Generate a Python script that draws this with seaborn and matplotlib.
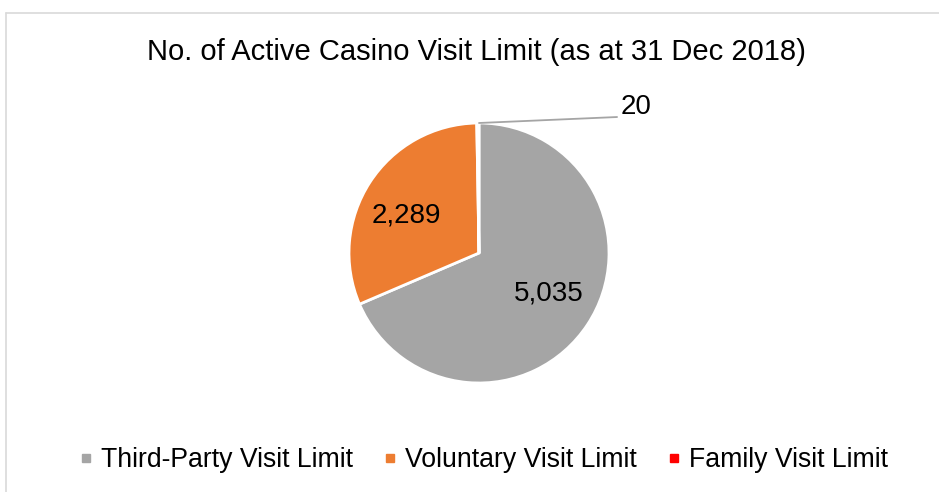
import matplotlib.pyplot as plt
import matplotlib.lines as mlines
import seaborn as sns

sns.set_theme(style="white")
plt.rcParams["font.family"] = ["Liberation Sans", "DejaVu Sans"]
plt.rcParams["text.color"] = "black"

# Data
categories = ["Third-Party Visit Limit", "Voluntary Visit Limit", "Family Visit Limit"]
counts = [5035, 2289, 20]
colors = ["#A5A5A5", "#ED7D31", "#FF0000"]
title = "No. of Active Casino Visit Limit (as at 31 Dec 2018)"

W, H = 939, 492
fig = plt.figure(figsize=(W / 100, H / 100), dpi=100)

# light border (chart area is cropped on right/bottom)
fig.add_artist(mlines.Line2D([6 / W, 1], [1 - 13 / H, 1 - 13 / H], color="#D9D9D9", lw=1.2))
fig.add_artist(mlines.Line2D([6 / W, 6 / W], [0, 1 - 13 / H], color="#D9D9D9", lw=1.2))

cx, cy, r = 479, 253, 130
ax = fig.add_axes([(cx - r) / W, (H - cy - r) / H, 2 * r / W, 2 * r / H])
ax.pie(
    counts,
    colors=colors,
    startangle=90,
    counterclock=False,
    radius=1,
    wedgeprops={"edgecolor": "white", "linewidth": 2},
)
ax.set_xlim(-1, 1)
ax.set_ylim(-1, 1)
ax.set_aspect("equal")

# data labels
ax.text(0.538, -0.308, f"{counts[0]:,}", fontsize=20, ha="center", va="center")
ax.text(-0.562, 0.292, f"{counts[1]:,}", fontsize=20, ha="center", va="center")
ax.plot([0.0, 1.062], [1.0, 1.046], color="#A5A5A5", lw=1.3, clip_on=False)
ax.text(1.092, 1.123, f"{counts[2]:,}", fontsize=20, ha="left", va="center")

fig.text(476.5 / W, 1 - 60 / H, title, fontsize=21, ha="center", va="baseline")

handles = [
    mlines.Line2D([], [], marker="s", linestyle="none", markersize=5.8,
                  markerfacecolor=c, markeredgecolor=c)
    for c in colors
]
fig.legend(
    handles, categories, loc="center", bbox_to_anchor=(483 / W, 1 - 460 / H),
    ncol=3, frameon=False, fontsize=19.2, handletextpad=0.26,
    columnspacing=1.09, handlelength=0.6, borderpad=0, borderaxespad=0,
)

fig.savefig("out.png", dpi=100)
